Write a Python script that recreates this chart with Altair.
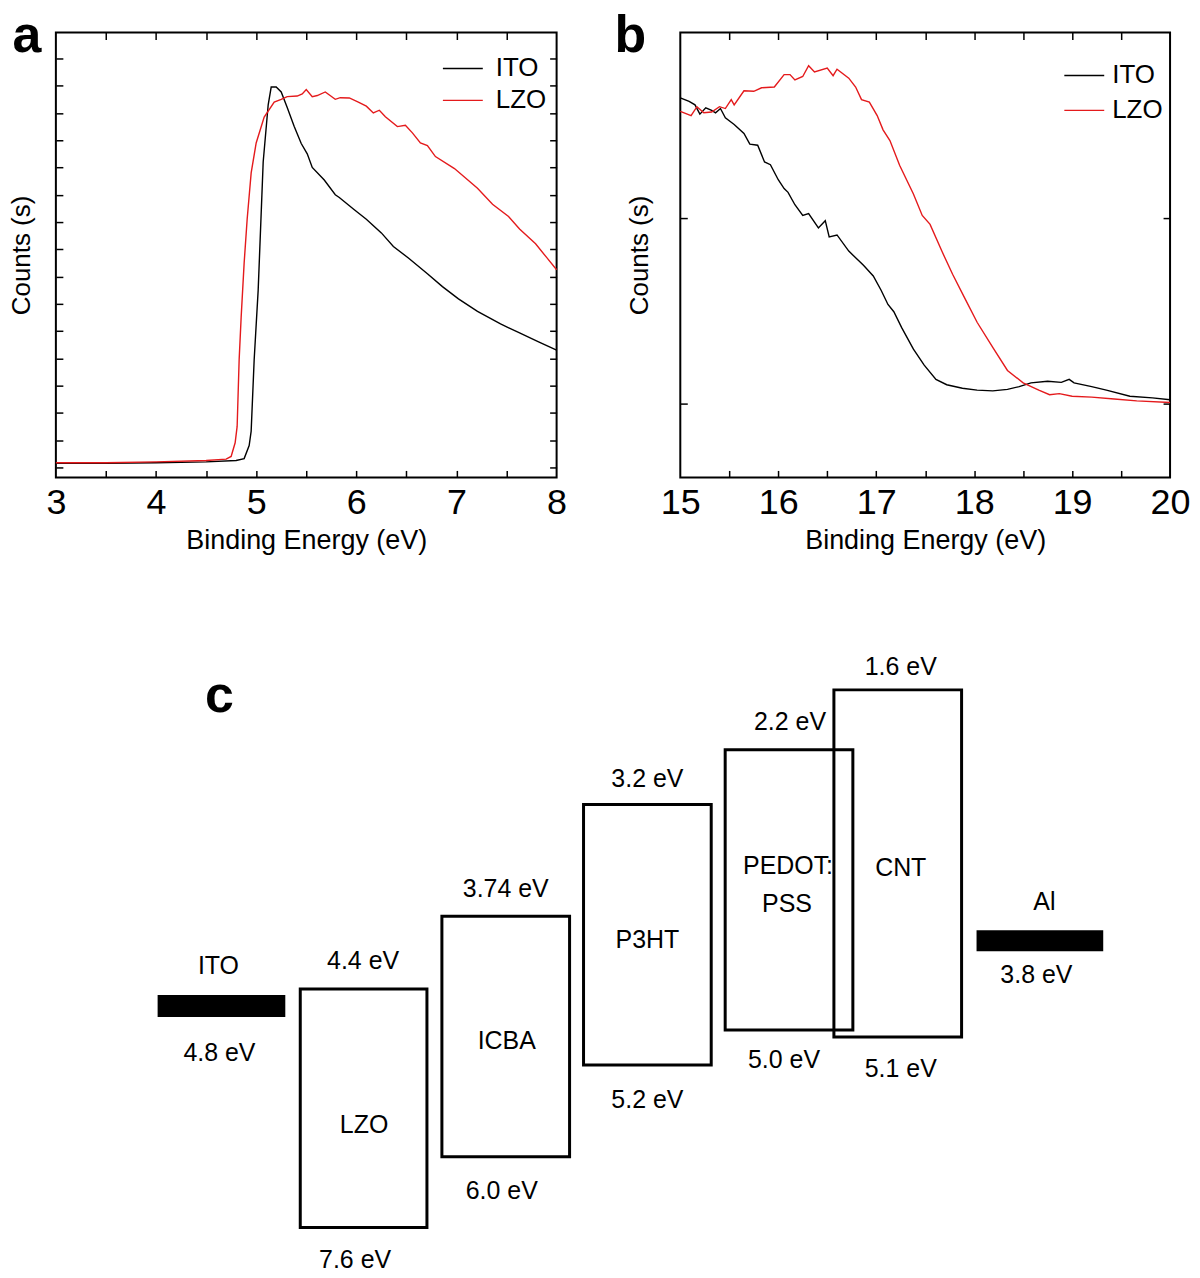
import altair as alt
import pandas as pd

FONT = "Liberation Sans"
SERIES = ["ITO", "LZO"]
SERIES_COLORS = ["#000000", "#e41a1c"]

# ---------------- panel a : binding energy (eV) vs counts (a.u.) ----------------
a_ito_x = [3.0, 3.5, 4.0, 4.5, 4.8, 4.88, 4.93, 4.95, 4.98, 5.02, 5.07, 5.12, 5.15, 5.2, 5.25,
           5.31, 5.38, 5.45, 5.51, 5.56, 5.68, 5.79, 5.83, 5.98, 6.1, 6.25, 6.37, 6.52, 6.71, 6.86,
           7.02, 7.21, 7.44, 7.63, 7.82, 8.0]
a_ito_y = [0.15, 0.15, 0.17, 0.2, 0.25, 0.32, 0.8, 1.33, 3.95, 6.5, 11.2, 13.3, 13.95, 13.95, 13.77,
           13.2, 12.5, 11.88, 11.5, 11.0, 10.54, 10.0, 9.9, 9.45, 9.1, 8.6, 8.1, 7.68, 7.1, 6.63,
           6.18, 5.72, 5.26, 4.93, 4.6, 4.3]
a_lzo_x = [3.0, 3.5, 4.0, 4.5, 4.7, 4.75, 4.79, 4.81, 4.83, 4.85, 4.88, 4.91, 4.95, 5.0, 5.08,
           5.18, 5.25, 5.31, 5.41, 5.46, 5.5, 5.56, 5.61, 5.69, 5.79, 5.84, 5.93, 6.02, 6.1, 6.17,
           6.23, 6.29, 6.41, 6.49, 6.56, 6.64, 6.71, 6.79, 6.98, 7.21, 7.36, 7.52, 7.63, 7.79, 7.9,
           8.0]
a_lzo_y = [0.17, 0.17, 0.2, 0.25, 0.3, 0.4, 0.9, 1.5, 3.95, 5.5, 7.5, 9.1, 10.8, 11.9, 12.85,
           13.4, 13.5, 13.6, 13.62, 13.7, 13.86, 13.6, 13.64, 13.77, 13.5, 13.56, 13.55, 13.4, 13.25, 13.0,
           13.1, 12.86, 12.5, 12.55, 12.27, 11.9, 11.8, 11.4, 10.96, 10.24, 9.65, 9.2, 8.74, 8.2, 7.7,
           7.25]
a_x_domain = [3, 8]
a_y_domain = [-0.37, 15.95]
a_x_labels = [3, 4, 5, 6, 7, 8]
a_x_ticks = [3.5, 4, 4.5, 5, 5.5, 6, 6.5, 7, 7.5]
a_y_ticks = list(range(0, 16))

# ---------------- panel b ----------------
b_ito_x = [15.0, 15.09, 15.15, 15.2, 15.26, 15.32, 15.36, 15.41, 15.46, 15.55, 15.65, 15.71, 15.79,
           15.86, 15.92, 16.0, 16.06, 16.1, 16.17, 16.25, 16.31, 16.41, 16.48, 16.52, 16.6, 16.72,
           16.87, 16.97, 17.05, 17.12, 17.18, 17.26, 17.38, 17.49, 17.61, 17.72, 17.88, 18.03, 18.19,
           18.34, 18.46, 18.58, 18.75, 18.89, 18.97, 19.02, 19.2, 19.35, 19.59, 19.82, 20.0]
b_ito_y = [1.648, 1.629, 1.61, 1.56, 1.594, 1.58, 1.567, 1.59, 1.54, 1.504, 1.456, 1.398, 1.392,
           1.302, 1.287, 1.206, 1.158, 1.138, 1.071, 1.013, 1.023, 0.946, 0.985, 0.898, 0.908, 0.821,
           0.744, 0.687, 0.61, 0.533, 0.494, 0.408, 0.292, 0.206, 0.129, 0.1, 0.081, 0.071, 0.067,
           0.075, 0.09, 0.11, 0.119, 0.113, 0.129, 0.11, 0.09, 0.071, 0.038, 0.029, 0.019]
b_lzo_x = [15.0, 15.11, 15.17, 15.24, 15.32, 15.4, 15.46, 15.52, 15.55, 15.65, 15.75, 15.83, 15.96,
           16.06, 16.12, 16.17, 16.25, 16.31, 16.37, 16.5, 16.56, 16.6, 16.72, 16.79, 16.85, 16.93,
           17.01, 17.07, 17.14, 17.24, 17.38, 17.47, 17.55, 17.67, 17.78, 17.9, 18.03, 18.19, 18.34,
           18.5, 18.66, 18.77, 18.87, 19.0, 19.2, 19.43, 19.66, 20.0]
b_lzo_y = [1.575, 1.552, 1.6, 1.567, 1.571, 1.6, 1.59, 1.638, 1.61, 1.686, 1.683, 1.702, 1.706,
           1.773, 1.773, 1.744, 1.763, 1.821, 1.787, 1.808, 1.767, 1.802, 1.754, 1.706, 1.638, 1.625,
           1.552, 1.475, 1.417, 1.283, 1.129, 1.013, 0.965, 0.821, 0.696, 0.571, 0.437, 0.302, 0.177,
           0.11, 0.071, 0.046, 0.052, 0.038, 0.033, 0.023, 0.013, 0.004]
b_x_domain = [15, 20]
b_y_domain = [-0.4, 2.0]
b_x_labels = [15, 16, 17, 18, 19, 20]
b_x_ticks = [15.5, 16, 16.5, 17, 17.5, 18, 18.5, 19, 19.5]
b_y_ticks = [0, 1]

# ---------------- panel c : energy level schematic (diagram units) ----------------
c_layers = ["ITO", "LZO", "ICBA", "P3HT", "PEDOT:PSS", "CNT", "Al"]
c_left = [102, 245, 387, 529, 671, 780, 923]
c_right = [230, 372, 515, 657, 799, 908, 1050]
c_top = [377, 371, 298, 186, 131, 71, 312]
c_bottom = [399, 610, 539, 447, 412, 419, 333]
c_is_electrode = [True, False, False, False, False, False, True]

c_text = ["ITO", "4.8 eV", "4.4 eV", "LZO", "7.6 eV", "3.74 eV", "ICBA", "6.0 eV",
          "3.2 eV", "P3HT", "5.2 eV", "2.2 eV", "PEDOT:", "PSS", "5.0 eV",
          "1.6 eV", "CNT", "5.1 eV", "Al", "3.8 eV"]
c_text_x = [163, 164, 308, 309, 300, 451, 452, 447, 593, 593, 593, 736, 734, 733, 730,
            847, 847, 847, 991, 983]
c_text_y = [348, 435, 343, 507, 643, 271, 423, 573, 160, 322, 482, 103, 248, 286, 442,
            48, 250, 451, 284, 357]
C_W, C_H = 1137, 656

A_W, A_H = 502, 446
B_W, B_H = 491, 446


def spectrum(xi, yi, xl, yl, xdom, ydom, xlab, xminor, ymajor, W, H, letter, letter_dx,
             leg_x, leg_y, leg_rowpad, leg_off, tpad):
    df = pd.DataFrame({
        "e": xi + xl,
        "c": yi + yl,
        "s": [SERIES[0]] * len(xi) + [SERIES[1]] * len(xl),
    })
    xs = alt.Scale(domain=xdom, nice=False, zero=False)
    ysc = alt.Scale(domain=ydom, nice=False, zero=False)
    base = alt.Chart(df)
    lines = base.mark_line(strokeWidth=1.4).encode(
        x=alt.X("e:Q", scale=xs, axis=alt.Axis(
            orient="bottom", values=xlab, format="d", ticks=False, domain=False, grid=False,
            labelFontSize=36, labelPadding=8, labelColor="black", labelFont=FONT,
            labelFlush=False, labelOverlap=False,
            title="Binding Energy (eV)", titleFontSize=27, titleFontWeight="normal",
            titlePadding=7, titleColor="black", titleFont=FONT)),
        y=alt.Y("c:Q", scale=ysc, axis=alt.Axis(
            orient="left", labels=False, ticks=False, domain=False, grid=False,
            title="Counts (s)", titleFontSize=26, titleFontWeight="normal",
            titlePadding=tpad, titleColor="black", titleFont=FONT)),
        color=alt.Color("s:N", scale=alt.Scale(domain=SERIES, range=SERIES_COLORS),
                        legend=alt.Legend(title=None, orient="none", legendX=leg_x, legendY=leg_y,
                                          symbolType="M-2,0L2,0", symbolSize=400,
                                          symbolStrokeWidth=1.4, labelFontSize=26, labelFont=FONT,
                                          labelColor="black", labelOffset=leg_off,
                                          rowPadding=leg_rowpad, padding=0)),
    )
    tick = dict(labels=False, domain=False, grid=False, title=None, tickSize=7, tickWidth=1.5,
                tickColor="black")
    ghost = base.mark_line(strokeOpacity=0)
    x_in_bottom = ghost.encode(
        x=alt.X("e:Q", scale=xs, axis=alt.Axis(orient="top", offset=-H, values=xminor, **tick)),
        y=alt.Y("c:Q", scale=ysc, axis=None))
    x_in_top = ghost.encode(
        x=alt.X("e:Q", scale=xs, axis=alt.Axis(orient="bottom", offset=-H, values=xminor, **tick)),
        y=alt.Y("c:Q", scale=ysc, axis=None))
    y_in_left = ghost.encode(
        y=alt.Y("c:Q", scale=ysc, axis=alt.Axis(orient="right", offset=-W, values=ymajor, **tick)),
        x=alt.X("e:Q", scale=xs, axis=None))
    y_in_right = ghost.encode(
        y=alt.Y("c:Q", scale=ysc, axis=alt.Axis(orient="left", offset=-W, values=ymajor, **tick)),
        x=alt.X("e:Q", scale=xs, axis=None))
    lab = alt.Chart(pd.DataFrame({"t": [letter]})).mark_text(
        font=FONT, fontSize=52, fontWeight="bold", align="center", baseline="alphabetic",
        color="black").encode(text="t:N", x=alt.value(letter_dx), y=alt.value(20))
    return alt.layer(lines, x_in_bottom, x_in_top, y_in_left, y_in_right, lab).resolve_axis(
        x="independent", y="independent").properties(
        width=W, height=H, view=alt.ViewBackground(stroke="black", strokeWidth=2))


panel_a = spectrum(a_ito_x, a_ito_y, a_lzo_x, a_lzo_y, a_x_domain, a_y_domain, a_x_labels,
                   a_x_ticks, a_y_ticks, A_W, A_H, "a", -29, 395, 23, 6, 20, 21)
panel_b = spectrum(b_ito_x, b_ito_y, b_lzo_x, b_lzo_y, b_x_domain, b_y_domain, b_x_labels,
                   b_x_ticks, b_y_ticks, B_W, B_H, "b", -50, 392, 30, 9, 15, 28)

# panel c
c_df = pd.DataFrame({"name": c_layers, "left": c_left, "right": c_right, "top": c_top,
                     "bottom": c_bottom, "electrode": c_is_electrode})
cxs = alt.Scale(domain=[0, C_W], nice=False, zero=False)
cys = alt.Scale(domain=[0, C_H], nice=False, zero=False, reverse=True)
c_enc = dict(x=alt.X("left:Q", scale=cxs, axis=None), x2="right:Q",
             y=alt.Y("top:Q", scale=cys, axis=None), y2="bottom:Q")
c_boxes = alt.Chart(c_df[~c_df["electrode"]]).mark_rect(
    fillOpacity=0, stroke="black", strokeWidth=3).encode(**c_enc)
c_bars = alt.Chart(c_df[c_df["electrode"]]).mark_rect(color="black").encode(**c_enc)
c_labels = alt.Chart(pd.DataFrame({"t": c_text, "x": c_text_x, "y": c_text_y})).mark_text(
    font=FONT, fontSize=25, color="black", align="center", baseline="middle").encode(
    x=alt.X("x:Q", scale=cxs, axis=None), y=alt.Y("y:Q", scale=cys, axis=None), text="t:N")
c_letter = alt.Chart(pd.DataFrame({"t": ["c"], "x": [164], "y": [93]})).mark_text(
    font=FONT, fontSize=52, fontWeight="bold", align="center", baseline="alphabetic",
    color="black").encode(x=alt.X("x:Q", scale=cxs, axis=None),
                          y=alt.Y("y:Q", scale=cys, axis=None), text="t:N")
panel_c = alt.layer(c_boxes, c_bars, c_labels, c_letter).properties(width=C_W, height=C_H)

top = alt.hconcat(panel_a, panel_b, spacing=124, bounds="flush").resolve_scale(
    color="independent").resolve_legend(color="independent")
chart = alt.vconcat(top, panel_c, spacing=588, bounds="flush").properties(padding=0).configure(
    font=FONT).configure_view(stroke="transparent")

chart.save("out.html", embed_options={"renderer": "svg", "actions": False})
